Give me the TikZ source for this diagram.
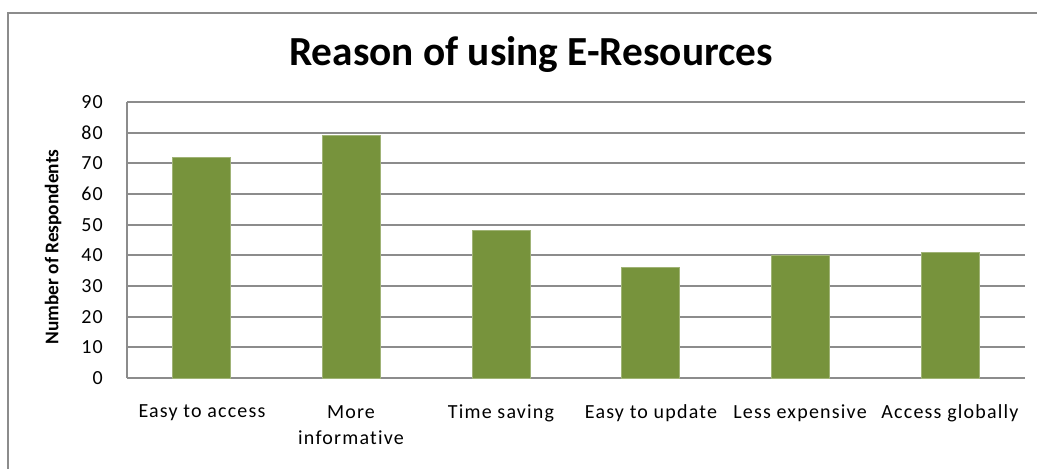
\documentclass[tikz,border=0pt]{standalone}
\usepackage{fontspec}
\setmainfont{Carlito}
\newfontfamily\labelfont[LetterSpace=6, Ligatures=NoCommon]{Carlito}
\definecolor{barGreen}{HTML}{77933C}
\definecolor{gridGray}{HTML}{8C8C8C}

\begin{document}
\begin{tikzpicture}[x=0.75pt, y=-0.75pt,
    grid/.style={gridGray, line width=1.5},
    bar/.style={fill=barGreen, draw=barGreen!70!white, line width=0.6},
    ticklabel/.style={anchor=east, inner sep=0pt, font=\labelfont\fontsize{15}{17}\selectfont},
    catlabel/.style={align=center, inner sep=0pt, font=\labelfont\fontsize{15}{19}\selectfont}]
    \useasboundingbox (0,0) rectangle (1037,468);
    % frame round the chart
    \draw [grid] (8,470) -- (8,13) -- (1040,13);
    \node (title) at (531,54) {\fontsize{31}{36}\selectfont\bfseries Reason of using E-Resources};
    \node (ytitle) at (53,247) [rotate=90] {\fontsize{14.5}{17}\selectfont\bfseries Number of Respondents};
    % value axis: gridlines and ticks
    \foreach \v in {0,10,...,90} {
        \draw [grid] (127,378-3.067*\v) -- (1025,378-3.067*\v);
        \node (tick\v) at (103,378-3.067*\v) [ticklabel] {\v};
    }
    \draw [grid] (127,102) -- (127,378);
    % the six bars
    \foreach \n/\val in {1/72, 2/79, 3/48, 4/36, 5/40, 6/41} {
        \draw [bar] (127+149.67*\n-74.83-29,378) rectangle (127+149.67*\n-74.83+29,378-3.067*\val);
    }
    % category names
    \node (cat1) at (202,413) [catlabel] {Easy to access};
    \node (cat2) at (351,425) [catlabel] {More\\informative};
    \node (cat3) at (501,413) [catlabel] {Time saving};
    \node (cat4) at (651,413) [catlabel] {Easy to update};
    \node (cat5) at (800,413) [catlabel] {Less expensive};
    \node (cat6) at (950,413) [catlabel] {Access globally};
\end{tikzpicture}
\end{document}
